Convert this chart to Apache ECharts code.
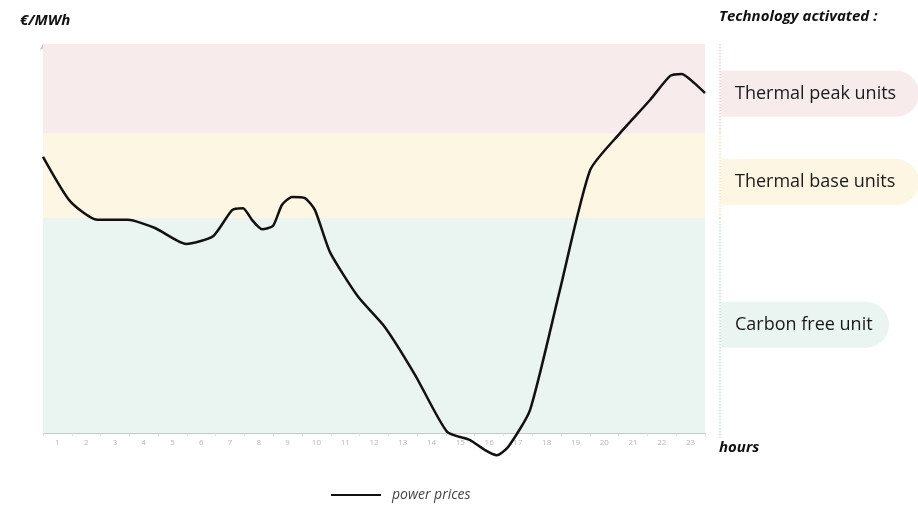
<!DOCTYPE html>
<html>
<head>
<meta charset="utf-8">
<script src="https://cdn.jsdelivr.net/npm/echarts@6/dist/echarts.min.js"></script>
<style>html,body{margin:0;padding:0;background:#fff}#c{width:918px;height:511px}</style>
</head>
<body>
<div id="c"></div>
<script>
// Hour tick labels (category axis)
const hourLabels = ['1','2','3','4','5','6','7','8','9','10','11','12','13','14','15','16','17','18','19','20','21','22','23'];
// Power price curve: [hour position, price index]
const priceHours = [0, 0.94, 1.88, 2.95, 3.89, 4.97, 5.91, 6.57, 6.95, 7.26, 7.61, 7.99, 8.30, 8.65, 9.10, 9.45, 9.97, 10.95, 11.88, 12.93, 14.04, 14.84, 15.36, 15.77, 16.16, 16.92, 17.96, 19.01, 20.05, 21.09, 21.79, 22.2, 22.62, 23];
const priceValues = [71, 59.6, 54.8, 54.8, 52.7, 48.6, 50.6, 57.3, 57.8, 54.8, 52.4, 53.2, 58.6, 60.7, 60.4, 57.3, 46.5, 35.0, 27.2, 14.9, 0.3, -1.8, -4.4, -5.7, -3.6, 5.9, 36.8, 67.6, 77.1, 85.6, 91.8, 92.3, 90.0, 87.4];
// Technology bands: [name, from, to]
const bandNames = ['Thermal peak units', 'Thermal base units', 'Carbon free unit'];
const bandFrom = [77.1, 55.3, 0];
const bandTo = [100, 77.1, 55.3];
const bandColors = ['#f7ebeb', '#fdf6e2', '#eaf4f1'];
const bandEdgeColors = ['#f1c9cf', '#f5e3b5', '#c4e0d8'];

const FONT = '"Open Sans", "Noto Sans", sans-serif';
const chart = echarts.init(document.getElementById('c'));

const option = {
  animation: false,
  grid: { left: 43, right: 213, top: 44, bottom: 78 },
  legend: {
    bottom: 4, left: 326,
    icon: 'rect', itemWidth: 50, itemHeight: 2, itemGap: 10,
    textStyle: { fontFamily: FONT, fontStyle: 'italic', fontSize: 14, color: '#444', padding: [0, 0, 0, 6] },
    data: ['power prices']
  },
  xAxis: [
    {
      type: 'category', data: hourLabels, boundaryGap: true,
      axisLine: { lineStyle: { color: '#c8c8c8', width: 1 } },
      axisTick: { show: true, lineStyle: { color: '#dcdcdc' }, length: 3 },
      axisLabel: { color: '#b8b8b8', fontSize: 8, fontFamily: FONT, margin: 6 },
      splitLine: { show: false }
    },
    {
      type: 'value', min: 0, max: 23, show: false
    }
  ],
  yAxis: {
    type: 'value', min: 0, max: 100,
    axisLine: { show: true, lineStyle: { color: '#c8c8c8' }, symbol: ['none', 'arrow'], symbolSize: [5, 6] },
    axisTick: { show: false }, axisLabel: { show: false }, splitLine: { show: false }
  },
  series: [
    {
      name: 'bands', type: 'line', xAxisIndex: 1, data: [], silent: true,
      markArea: {
        silent: true,
        data: bandNames.map((n, i) => [
          { yAxis: bandFrom[i], xAxis: 0, itemStyle: { color: bandColors[i] } },
          { yAxis: bandTo[i], xAxis: 23 }
        ])
      }
    },
    {
      name: 'power prices', type: 'line', xAxisIndex: 1,
      data: priceHours.map((h, i) => [h, priceValues[i]]),
      smooth: 0.2, symbol: 'none', showSymbol: false, clip: false,
      lineStyle: { color: '#111', width: 2.5 },
      itemStyle: { color: '#111' },
      z: 5
    }
  ],
  graphic: []
};
chart.setOption(option);

// Annotations positioned from band values
const g = [];
const yPx = v => chart.convertToPixel({ yAxisIndex: 0 }, v);
const pillCenters = [yPx(87.2), yPx(64.5), yPx(27.8)];
const pillWidths = [198, 198, 168];
bandNames.forEach((n, i) => {
  const top = yPx(bandTo[i]), bot = yPx(bandFrom[i]) + (i === 2 ? 5 : 0);
  g.push({ type: 'line', shape: { x1: 720, y1: top, x2: 720, y2: bot },
    style: { stroke: bandEdgeColors[i], lineWidth: 1.5, lineDash: [1.5, 1.5] } });
  const cy = pillCenters[i];
  g.push({ type: 'rect', shape: { x: 721, y: cy - 23, width: pillWidths[i], height: 46, r: [0, 23, 23, 0] },
    style: { fill: bandColors[i] } });
  g.push({ type: 'text', x: 735, y: cy, style: { text: n, fontSize: 18, fontFamily: FONT, fill: '#1a1a1a', verticalAlign: 'middle' } });
});
g.push({ type: 'text', x: 20, y: 13, style: { text: '€/MWh', fontSize: 15, fontWeight: 'bold', fontStyle: 'italic', fontFamily: FONT, fill: '#111' } });
g.push({ type: 'text', x: 719, y: 9, style: { text: 'Technology activated :', fontSize: 15, fontWeight: 'bold', fontStyle: 'italic', fontFamily: FONT, fill: '#111' } });
g.push({ type: 'text', x: 719, y: 440, style: { text: 'hours', fontSize: 15, fontWeight: 'bold', fontStyle: 'italic', fontFamily: FONT, fill: '#111' } });
chart.setOption({ graphic: g });
</script>
</body>
</html>
